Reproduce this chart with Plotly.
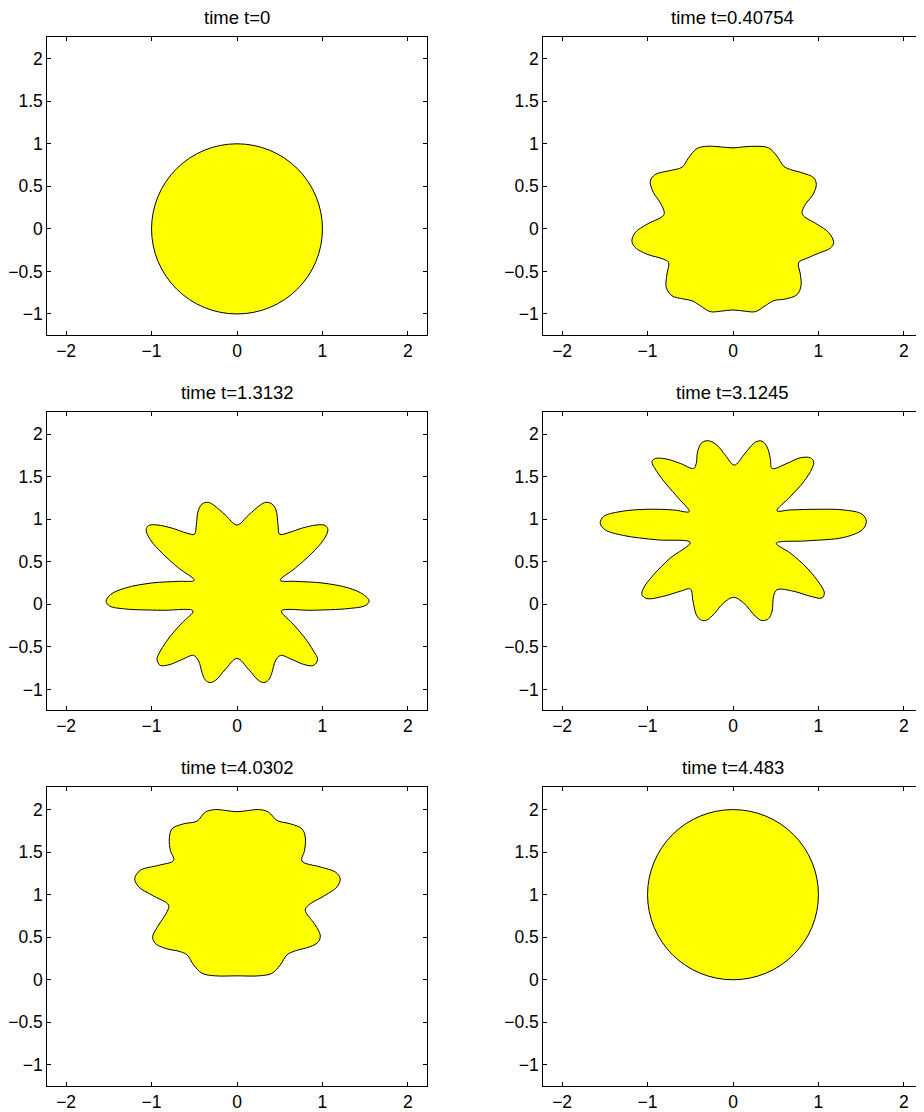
import plotly.graph_objects as go

# ---------------- data ----------------
titles = ["time t=0", "time t=0.40754", "time t=1.3132",
          "time t=3.1245", "time t=4.0302", "time t=4.483"]
x_ticks = [-2, -1, 0, 1, 2]
y_ticks = [-1, -0.5, 0, 0.5, 1, 1.5, 2]
x_range = [-2.22, 2.22]
y_range = [-1.245, 2.26]

# circular interfaces (panels 1 and 6)
circle_panels = [1, 6]
circle_cx = [0.0, 0.0]
circle_cy = [0.0, 1.0]
circle_r = [1.0, 1.0]

# panel 2 : t = 0.40754
p2_x = [1.178, 1.120, 0.984, 0.827, 0.808, 0.847, 0.937, 0.975, 0.944, 0.808, 0.671, 0.593,
        0.515, 0.417, 0.281, 0.124, 0.0, -0.149, -0.304, -0.422, -0.520, -0.597, -0.734, -0.910,
        -0.968, -0.930, -0.851, -0.804, -0.820, -1.007, -1.144, -1.183, -1.144, -1.007, -0.813,
        -0.754, -0.773, -0.781, -0.714, -0.578, -0.480, -0.383, -0.266, -0.149, 0.0, 0.144, 0.261,
        0.378, 0.475, 0.612, 0.749, 0.796, 0.788, 0.768, 0.867, 1.022, 1.139, 1.178]
p2_y = [-0.161, -0.043, 0.054, 0.151, 0.191, 0.288, 0.405, 0.522, 0.601, 0.659, 0.698, 0.737,
        0.854, 0.952, 0.971, 0.964, 0.952, 0.964, 0.971, 0.944, 0.835, 0.725, 0.686, 0.639,
        0.561, 0.425, 0.308, 0.191, 0.151, 0.054, -0.043, -0.142, -0.219, -0.297, -0.356,
        -0.395, -0.532, -0.687, -0.786, -0.824, -0.844, -0.903, -0.973, -0.968, -0.953, -0.968, -0.973,
        -0.903, -0.844, -0.824, -0.774, -0.669, -0.532, -0.395, -0.344, -0.278, -0.227, -0.161]

# panel 3 : t = 1.3132
p3_x = [1.547, 1.481, 1.305, 0.994, 0.682, 0.506, 0.682, 0.877, 1.013, 1.064, 1.033, 0.936,
        0.760, 0.585, 0.498, 0.480, 0.456, 0.409, 0.339, 0.273, 0.136, 0.0, -0.137, -0.274,
        -0.339, -0.409, -0.456, -0.476, -0.499, -0.585, -0.760, -0.936, -1.034, -1.064, -1.013,
        -0.877, -0.683, -0.499, -0.682, -0.994, -1.306, -1.481, -1.532, -1.49, -1.30, -0.88,
        -0.515, -0.643, -0.780, -0.897, -0.936, -0.897, -0.780, -0.643, -0.508, -0.449, -0.409,
        -0.371, -0.312, -0.246, -0.137, 0.0, 0.136, 0.246, 0.312, 0.370, 0.409, 0.449, 0.508,
        0.643, 0.779, 0.896, 0.943, 0.896, 0.779, 0.643, 0.52, 0.88, 1.30, 1.50, 1.547]
p3_y = [0.036, 0.114, 0.192, 0.251, 0.270, 0.282, 0.426, 0.602, 0.758, 0.875, 0.926, 0.933,
        0.895, 0.836, 0.824, 0.933, 1.109, 1.179, 1.199, 1.167, 1.050, 0.933, 1.050, 1.167,
        1.199, 1.179, 1.090, 0.933, 0.824, 0.836, 0.895, 0.933, 0.926, 0.875, 0.758,
        0.602, 0.426, 0.282, 0.270, 0.251, 0.192, 0.114, 0.036, -0.02, -0.055, -0.07,
        -0.078, -0.218, -0.374, -0.549, -0.648, -0.718, -0.706, -0.648, -0.601, -0.666, -0.803,
        -0.889, -0.920, -0.889, -0.765, -0.636, -0.765, -0.889, -0.920, -0.889, -0.803, -0.666, -0.601,
        -0.648, -0.706, -0.718, -0.648, -0.549, -0.374, -0.218, -0.078, -0.07, -0.05, -0.015, 0.036]

# panel 4 : t = 3.1245
p4_x = [1.561, 1.511, 1.295, 0.984, 0.671, 0.515, 0.671, 0.827, 0.925, 0.944, 0.905, 0.788,
        0.632, 0.457, 0.437, 0.398, 0.340, 0.269, 0.203, 0.124, 0.015, -0.090, -0.187, -0.286,
        -0.363, -0.415, -0.430, -0.461, -0.617, -0.773, -0.910, -0.948, -0.890, -0.773, -0.637,
        -0.512, -0.696, -1.007, -1.320, -1.515, -1.554, -1.495, -1.281, -0.890, -0.500, -0.734,
        -0.929, -1.046, -1.066, -1.007, -0.813, -0.617, -0.500, -0.468, -0.430, -0.383, -0.324,
        -0.246, -0.110, 0.007, 0.124, 0.261, 0.340, 0.417, 0.457, 0.475, 0.515, 0.710, 0.905,
        1.042, 1.069, 1.022, 0.867, 0.671, 0.507, 0.867, 1.295, 1.511, 1.561]
p4_y = [0.973, 1.059, 1.109, 1.117, 1.109, 1.100, 1.266, 1.441, 1.597, 1.676, 1.722, 1.722,
        1.656, 1.597, 1.714, 1.851, 1.917, 1.910, 1.851, 1.753, 1.636, 1.753, 1.870, 1.922,
        1.902, 1.793, 1.656, 1.597, 1.656, 1.706, 1.714, 1.676, 1.559, 1.402, 1.246,
        1.090, 1.109, 1.117, 1.090, 1.032, 0.953, 0.875, 0.809, 0.758, 0.727, 0.543,
        0.348, 0.192, 0.114, 0.067, 0.095, 0.153, 0.180, 0.036, -0.121, -0.179, -0.191,
        -0.139, 0.016, 0.083, 0.016, -0.139, -0.191, -0.167, -0.081, 0.095, 0.172, 0.153, 0.095,
        0.075, 0.133, 0.231, 0.426, 0.602, 0.718, 0.746, 0.786, 0.875, 0.973]

# panel 5 : t = 4.0302
p5_x = [1.208, 1.150, 0.974, 0.760, 0.791, 0.799, 0.760, 0.623, 0.468, 0.370, 0.253, 0.124,
        0.0, -0.124, -0.254, -0.371, -0.468, -0.624, -0.760, -0.792, -0.780, -0.741, -0.917,
        -1.131, -1.197, -1.150, -0.994, -0.800, -0.819, -0.917, -0.987, -0.956, -0.839, -0.663,
        -0.585, -0.507, -0.409, -0.254, 0.0, 0.253, 0.409, 0.506, 0.585, 0.682, 0.857, 0.954,
        0.974, 0.916, 0.799, 0.837, 1.033, 1.170, 1.208]
p5_y = [1.189, 1.267, 1.326, 1.396, 1.521, 1.677, 1.774, 1.833, 1.872, 1.970, 2.000, 1.988,
        1.975, 1.988, 2.000, 1.970, 1.864, 1.833, 1.774, 1.657, 1.521, 1.404, 1.345,
        1.287, 1.189, 1.091, 0.994, 0.877, 0.799, 0.643, 0.506, 0.427, 0.369, 0.330,
        0.292, 0.174, 0.076, 0.046, 0.046, 0.046, 0.076, 0.174, 0.292, 0.340, 0.389, 0.447,
        0.526, 0.643, 0.818, 0.877, 0.994, 1.091, 1.189]

shape_panels = [2, 3, 4, 5]
shape_xs = [p2_x, p3_x, p4_x, p5_x]
shape_ys = [p2_y, p3_y, p4_y, p5_y]

# ---------------- layout geometry ----------------
OFF = 8  # page body margin in the browser
W, H = 916, 1104
col_px = [(47.3, 426.7), (543.3, 922.7)]
row_px = [(36.7, 336.0), (413.5, 712.8), (790.3, 1089.6)]

FONT = "Liberation Sans, Arial, Helvetica, sans-serif"
fill_col = "#FFFF00"

fig = go.Figure()

def ax_names(i):
    return ("x" if i == 1 else f"x{i}"), ("y" if i == 1 else f"y{i}")

for k, i in enumerate(shape_panels):
    xn, yn = ax_names(i)
    fig.add_trace(go.Scatter(
        x=shape_xs[k], y=shape_ys[k], mode="lines", fill="toself",
        fillcolor=fill_col, line=dict(color="black", width=1, shape="spline", smoothing=1.0),
        xaxis=xn, yaxis=yn, showlegend=False, hoverinfo="skip"))

shapes = []
for k, i in enumerate(circle_panels):
    xn, yn = ax_names(i)
    shapes.append(dict(type="circle", xref=xn, yref=yn,
                       x0=circle_cx[k] - circle_r[k], x1=circle_cx[k] + circle_r[k],
                       y0=circle_cy[k] - circle_r[k], y1=circle_cy[k] + circle_r[k],
                       fillcolor=fill_col, line=dict(color="black", width=1), layer="above"))

layout = dict(width=W, height=H, margin=dict(l=0, r=0, t=0, b=0),
              paper_bgcolor="white", plot_bgcolor="white",
              font=dict(family=FONT, size=17.5, color="black"),
              shapes=shapes, showlegend=False)

annotations = []
for i in range(1, 7):
    r = (i - 1) // 2
    c = (i - 1) % 2
    x0, x1 = col_px[c]
    y0, y1 = row_px[r]
    xd = [(x0 - OFF) / W, (x1 - OFF) / W]
    yd = [1 - (y1 - OFF) / H, 1 - (y0 - OFF) / H]
    key_x = "xaxis" if i == 1 else f"xaxis{i}"
    key_y = "yaxis" if i == 1 else f"yaxis{i}"
    xn, yn = ax_names(i)
    common = dict(showline=True, linecolor="black", linewidth=1, mirror="ticks",
                  ticks="inside", ticklen=4, tickwidth=1, tickcolor="black",
                  showgrid=False, zeroline=False, fixedrange=True,
                  tickfont=dict(family=FONT, size=17.5, color="black"))
    layout[key_x] = dict(domain=xd, anchor=yn, range=x_range, tickvals=x_ticks, **common)
    layout[key_y] = dict(domain=yd, anchor=xn, range=y_range, tickvals=y_ticks, **common)
    annotations.append(dict(text=titles[i - 1], xref="paper", yref="paper",
                            x=(xd[0] + xd[1]) / 2, y=yd[1], xanchor="center", yanchor="bottom",
                            yshift=7, showarrow=False,
                            font=dict(family=FONT, size=18.5, color="black")))

layout["annotations"] = annotations
fig.update_layout(**layout)

fig.write_html("out.html")
